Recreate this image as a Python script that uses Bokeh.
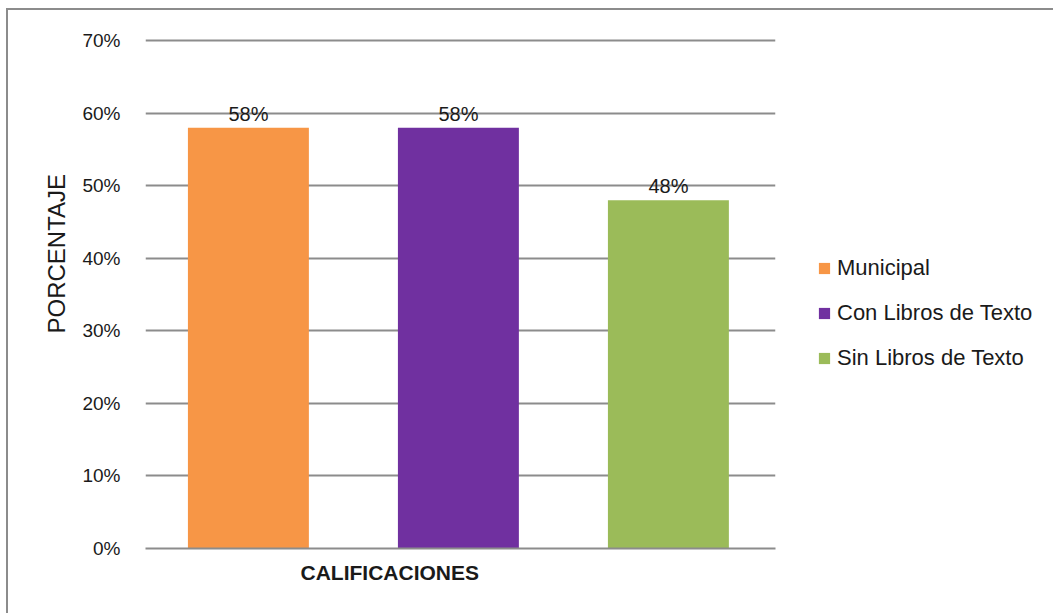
from bokeh.plotting import figure
from bokeh.models import (ColumnDataSource, FixedTicker, NumeralTickFormatter,
                          Legend, LegendItem, Title, Range1d)
from bokeh.core.properties import value
from bokeh.embed import file_html
from bokeh.resources import INLINE

# ---- data ----
categories = ["Municipal", "Con Libros de Texto", "Sin Libros de Texto"]
values = [0.58, 0.58, 0.48]
value_labels = ["58%", "58%", "48%"]
colors = ["#F79646", "#7030A0", "#9BBB59"]
y_ticks = [0.0, 0.1, 0.2, 0.3, 0.4, 0.5, 0.6, 0.7]
x_title = "CALIFICACIONES"
y_title = "PORCENTAJE"

FONT = "Liberation Sans"
TXT = "#1a1a1a"

xs = list(range(len(categories)))
src = ColumnDataSource(dict(x=xs, top=values, color=colors, lab=value_labels, cat=categories))

p = figure(frame_width=630, frame_height=510, output_backend="svg", toolbar_location=None,
           x_range=Range1d(-0.49, len(categories) - 0.49), y_range=Range1d(0, 0.703),
           min_border_left=137, min_border_right=278, min_border_top=28, min_border_bottom=65)
p.styles = {"margin-left": "6px", "margin-top": "8px",
            "border-top": "2px solid #8c8c8c", "border-left": "2px solid #8c8c8c"}
p.outline_line_color = None
p.background_fill_color = "white"
p.border_fill_color = "white"

bars = p.vbar(x="x", top="top", width=0.576, fill_color="color", line_color=None, source=src)

p.text(x="x", y="top", text="lab", source=src, text_align="center", text_baseline="alphabetic",
       y_offset=-14, text_font=value(FONT), text_font_size="20px", text_color=TXT)

# y axis
p.yaxis.ticker = FixedTicker(ticks=y_ticks)
p.yaxis.formatter = NumeralTickFormatter(format="0%")
p.yaxis.axis_line_color = None
p.yaxis.major_tick_line_color = None
p.yaxis.minor_tick_line_color = None
p.yaxis.major_label_standoff = 19
p.yaxis.major_label_text_font = FONT
p.yaxis.major_label_text_font_size = "19px"
p.yaxis.major_label_text_color = TXT

p.add_layout(Title(text=y_title, align="left", offset=215, standoff=19,
                   text_font=FONT, text_font_size="24px", text_font_style="normal",
                   text_color=TXT), "left")

# x axis: only the base line
p.xaxis.ticker = FixedTicker(ticks=[])
p.xaxis.major_tick_line_color = None
p.xaxis.minor_tick_line_color = None
p.xaxis.major_label_text_font_size = "0px"
p.xaxis.axis_line_color = "#8c8c8c"
p.xaxis.axis_line_width = 2

p.xgrid.grid_line_color = None
p.ygrid.grid_line_color = "#8c8c8c"
p.ygrid.grid_line_width = 2

p.add_layout(Title(text=x_title, align="left", offset=155, standoff=21,
                   text_font=FONT, text_font_size="21px", text_font_style="bold",
                   text_color=TXT), "below")

items = [LegendItem(label=c, renderers=[bars], index=i) for i, c in enumerate(categories)]
legend = Legend(items=items, location=(42, 177), orientation="vertical",
                glyph_width=14, glyph_height=14, label_standoff=6, spacing=19,
                label_height=26, padding=0, margin=0,
                label_text_font=FONT, label_text_font_size="22px", label_text_color=TXT,
                border_line_color=None, background_fill_alpha=0)
p.add_layout(legend, "right")

open("out.html", "w").write(file_html(p, INLINE))
